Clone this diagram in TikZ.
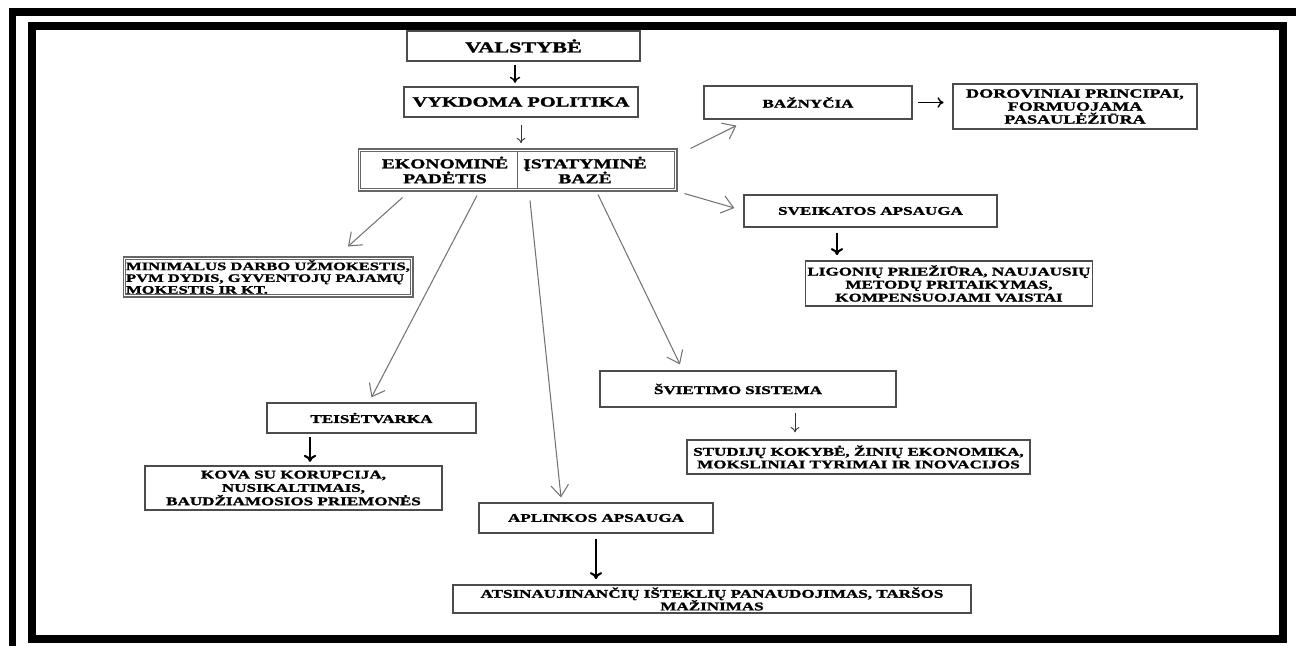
\documentclass[tikz,border=0pt]{standalone}
\usepackage{fontspec}
\setmainfont{Liberation Serif}[FakeStretch=1.45, BoldFeatures={FakeBold=1.5}]
\usetikzlibrary{arrows.meta}
\newcommand{\tightfont}[2]{\fontsize{#1}{#2}\selectfont\bfseries\lineskiplimit=-20pt\relax}

\begin{document}
\begin{tikzpicture}[
  x=0.02cm, y=-0.02cm,
  every node/.style={font=\tightfont{6.7}{7.2}},
  box/.style={draw=black!70, line width=0.7pt, inner sep=1pt, align=center},
  bigbox/.style={box, font=\tightfont{8}{9}},
  dbox/.style={draw=black!60, line width=0.6pt, inner sep=1pt},
  dline/.style={draw=black!60, line width=0.6pt},
  half/.style={align=center, inner sep=0pt, font=\tightfont{7.7}{8.5}},
  arrowk/.style={-{To[length=4pt,width=7pt]}, line width=1.2pt},
  arrowm/.style={-{To[length=3.5pt,width=6pt]}, line width=0.8pt},
  arrowt/.style={-{To[length=3pt,width=5pt]}, line width=0.5pt, black!80},
  arrowg/.style={-{Straight Barb[length=6.5pt,width=10pt]}, line width=0.6pt, gray!90!black},
]
\useasboundingbox (0,0) rectangle (1296,646);

% Frame
\draw[line width=0.16cm] (12.5,646) -- (12.5,11.5) -- (1296,11.5);
\draw[line width=0.16cm] (32,25.5) rectangle (1283,638.5);

% State and policy
\node[bigbox, font=\tightfont{8.7}{9}, minimum width=4.66cm, minimum height=0.6cm] (valst) at (523.5,46) {VALSTYBĖ};
\node[bigbox, minimum width=4.68cm, minimum height=0.6cm] (policy) at (521,102) {VYKDOMA POLITIKA};

% Economic and legal base
\node[dbox, minimum width=6.38cm, minimum height=0.84cm] (core) at (517.5,170) {};
\draw[dline] ([xshift=1.7pt,yshift=-1.7pt]core.north west) rectangle ([xshift=-1.7pt,yshift=1.7pt]core.south east);
\node[half] (econ) at (445,170) {EKONOMINĖ\\PADĖTIS};
\node[half] (legal) at (585,170) {ĮSTATYMINĖ\\BAZĖ};
\draw[dline, shorten <=1.7pt, shorten >=1.7pt] (core.north) -- (core.south);

% Right branch
\node[box, minimum width=4.16cm, minimum height=0.66cm] (church) at (808,102.5) {BAŽNYČIA};
\node[box, font=\tightfont{7.1}{7.4}, minimum width=4.88cm, minimum height=0.9cm] (moral) at (1075,106.5) {DOROVINIAI PRINCIPAI,\\FORMUOJAMA\\PASAULĖŽIŪRA};
\node[box, minimum width=5.06cm, minimum height=0.64cm] (health) at (870.5,211) {SVEIKATOS APSAUGA};
\node[box, font=\tightfont{6.7}{7.4}, minimum width=5.72cm, minimum height=0.9cm] (care) at (949,283.5) {LIGONIŲ PRIEŽIŪRA, NAUJAUSIŲ\\METODŲ PRITAIKYMAS,\\KOMPENSUOJAMI VAISTAI};

% Left branch
\node[dbox, align=left, font=\tightfont{6.5}{6.7}, minimum width=5.8cm, minimum height=0.8cm] (tax) at (268,277) {MINIMALUS DARBO UŽMOKESTIS,\\PVM DYDIS, GYVENTOJŲ PAJAMŲ\\MOKESTIS IR KT.};
\draw[dline] ([xshift=1.6pt,yshift=-1.6pt]tax.north west) rectangle ([xshift=-1.6pt,yshift=1.6pt]tax.south east);
\node[box, minimum width=4.18cm, minimum height=0.6cm] (order) at (371.5,418) {TEISĖTVARKA};
\node[box, font=\tightfont{6.7}{7.6}, minimum width=5.94cm, minimum height=0.88cm] (crime) at (293.5,488) {KOVA SU KORUPCIJA,\\NUSIKALTIMAIS,\\BAUDŽIAMOSIOS PRIEMONĖS};

% Lower branches
\node[box, minimum width=4.68cm, minimum height=0.6cm] (env) at (596,518) {APLINKOS APSAUGA};
\node[box, minimum width=10.36cm, minimum height=0.56cm] (renew) at (712,599) {ATSINAUJINANČIŲ IŠTEKLIŲ PANAUDOJIMAS, TARŠOS\\MAŽINIMAS};
\node[box, align=left, inner xsep=1.08cm, text width=3.76cm, minimum height=0.72cm] (edu) at (748,389) {ŠVIETIMO SISTEMA};
\node[box, minimum width=6.86cm, minimum height=0.68cm] (study) at (858.5,457) {STUDIJŲ KOKYBĖ, ŽINIŲ EKONOMIKA,\\MOKSLINIAI TYRIMAI IR INOVACIJOS};

% Vertical arrows
\draw[arrowm, shorten <=2pt, shorten >=2pt] ([xshift=-0.17cm]valst.south) -- ([xshift=-0.17cm]valst.south |- policy.north);
\draw[arrowt, shorten <=4pt, shorten >=3pt] (policy.south) -- (policy.south |- core.north);
\draw[arrowm, shorten <=3pt, shorten >=5pt] (church.east) -- (church.east -| moral.west);
\draw[arrowk, shorten <=3pt, shorten >=3pt] ([xshift=-0.67cm]health.south) -- ([xshift=-0.67cm]health.south |- care.north);
\draw[arrowk, shorten <=2pt, shorten >=2pt] ([xshift=-1.23cm]order.south) -- ([xshift=-1.23cm]order.south |- crime.north);
\draw[arrowk, shorten <=3pt, shorten >=3pt] (env.south) -- (env.south |- renew.north);
\draw[arrowt, shorten <=3pt, shorten >=4pt] ([xshift=0.94cm]edu.south) -- ([xshift=0.94cm]edu.south |- study.north);

% Gray arrows from the base
\draw[arrowg] ([xshift=0.26cm]core.north east) -- ([xshift=0.66cm,yshift=-0.12cm]church.south west);
\draw[arrowg] ([xshift=0.14cm,yshift=-0.04cm]core.south east) -- ([xshift=-0.18cm,yshift=0.06cm]health.west);
\draw[arrowg] ([xshift=-2.3cm,yshift=-0.12cm]core.south) -- ([xshift=1.6cm,yshift=0.2cm]tax.north);
\draw[arrowg] ([xshift=-0.81cm,yshift=-0.08cm]core.south) -- ([yshift=0.1cm]order.north);
\draw[arrowg] ([xshift=0.25cm,yshift=-0.18cm]core.south) -- ([xshift=-0.7cm,yshift=0.1cm]env.north);
\draw[arrowg] ([xshift=1.61cm,yshift=-0.06cm]core.south) -- ([xshift=-1.36cm,yshift=0.12cm]edu.north);

\end{tikzpicture}
\end{document}
